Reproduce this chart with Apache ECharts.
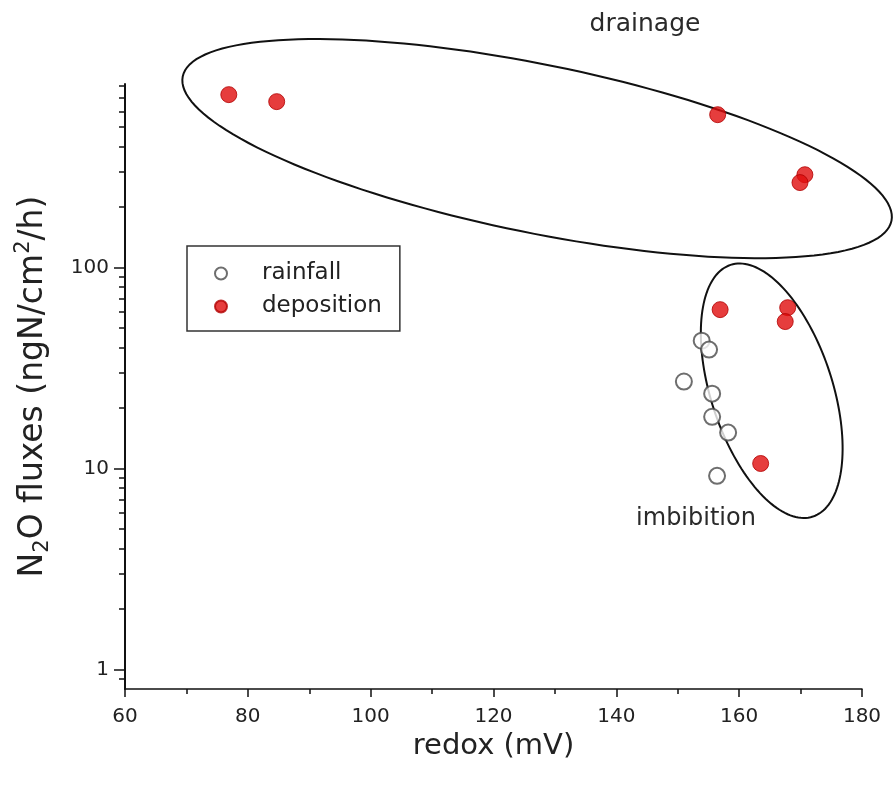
<!DOCTYPE html>
<html>
<head>
<meta charset="utf-8">
<script src="https://cdn.jsdelivr.net/npm/echarts@6/dist/echarts.min.js"></script>
<style>
  html, body { margin: 0; padding: 0; background: #fff; }
  #chart { width: 894px; height: 787px; }
</style>
</head>
<body>
<div id="chart"></div>
<script>
// rainfall (open circles)
var rainfallRedox = [153.9, 155.1, 151.0, 155.6, 155.6, 158.2, 156.4]
var rainfallFlux = [43.3, 39.1, 27.1, 23.6, 18.1, 15.1, 9.2]

// deposition (red dots)
var depositionRedox = [76.9, 84.7, 156.5, 170.7, 169.9, 156.9, 167.9, 167.5, 163.5]
var depositionFlux = [726, 670, 577, 290, 265, 61.8, 63.2, 53.9, 10.6]

var xTicks = [60, 80, 100, 120, 140, 160, 180]
var yMajorTicks = [1, 10, 100]
var yMinorTicks = [0.9, 2, 3, 4, 5, 6, 7, 8, 9, 20, 30, 40, 50, 60, 70, 80, 90, 200, 300, 400, 500, 600, 700, 800]

// ellipses: center, end of one half axis, end of the other (redox, flux)
var drainageEllipse = [127.1, 391, 184.8, 171, 124.4, 152]
var imbibitionEllipse = [165.3, 24.4, 172.0, 5.77, 174.7, 30.3]

var font = 'DejaVu Sans'
var ink = '#222'

function pairs(xs, ys) {
  return xs.map(function (x, i) { return [x, ys[i]] })
}

var chart = echarts.init(document.getElementById('chart'))

chart.setOption({
  animation: false,
  backgroundColor: '#fff',
  grid: { left: 125, right: 32, top: 84, bottom: 98 },
  legend: {
    data: ['rainfall', 'deposition'],
    orient: 'vertical',
    left: 187,
    top: 246,
    padding: [16, 18, 13, 27],
    itemGap: 10,
    itemWidth: 14,
    itemHeight: 12,
    backgroundColor: '#fff',
    borderColor: '#333',
    borderWidth: 1.5,
    borderRadius: 0,
    textStyle: { fontFamily: font, fontSize: 23, color: ink, padding: [0, 0, 0, 29] }
  },
  xAxis: {
    type: 'value',
    min: xTicks[0],
    max: xTicks[xTicks.length - 1],
    interval: 20,
    splitLine: { show: false },
    axisLine: { lineStyle: { color: '#111', width: 1.5 } },
    axisTick: { length: 8, lineStyle: { color: '#111', width: 1.5 } },
    minorTick: { show: true, splitNumber: 2, length: 5, lineStyle: { color: '#111', width: 1.5 } },
    axisLabel: { margin: 18, fontFamily: font, fontSize: 20, color: ink },
    name: 'redox (mV)',
    nameLocation: 'middle',
    nameGap: 42,
    nameTextStyle: { fontFamily: font, fontSize: 29, color: ink }
  },
  yAxis: [{
    type: 'log',
    min: 0.8,
    max: 820,
    splitLine: { show: false },
    axisLine: { lineStyle: { color: '#111', width: 2 } },
    axisTick: { customValues: yMajorTicks, length: 11, lineStyle: { color: '#111', width: 1.5 } },
    axisLabel: { customValues: yMajorTicks, margin: 16, fontFamily: font, fontSize: 20, color: ink },
    name: '{a|N}{s|2}{a|O fluxes (ngN/cm}{p|2}{a|/h)}',
    nameLocation: 'middle',
    nameGap: 72,
    nameTextStyle: {
      rich: {
        a: { fontFamily: font, fontSize: 33, color: ink, lineHeight: 40 },
        s: { fontFamily: font, fontSize: 21, color: ink, verticalAlign: 'bottom', lineHeight: 21 },
        p: { fontFamily: font, fontSize: 21, color: ink, verticalAlign: 'top', lineHeight: 21 }
      }
    }
  }, {
    type: 'log',
    min: 0.8,
    max: 820,
    position: 'left',
    splitLine: { show: false },
    axisLine: { show: false },
    axisTick: { customValues: yMinorTicks, length: 6, lineStyle: { color: '#111', width: 1.5 } },
    axisLabel: { show: false }
  }],
  graphic: [
    { type: 'text', x: 645, y: 24, style: { text: 'drainage', fill: '#2a2a2a', font: '25px "DejaVu Sans"', align: 'center', verticalAlign: 'middle' } },
    { type: 'text', x: 696, y: 519, style: { text: 'imbibition', fill: '#2a2a2a', font: '24px "DejaVu Sans"', align: 'center', verticalAlign: 'middle' } }
  ],
  series: [{
    type: 'custom',
    clip: false,
    silent: true,
    z: 1,
    data: [drainageEllipse, imbibitionEllipse],
    encode: { x: [0, 2, 4], y: [1, 3, 5] },
    renderItem: function (params, api) {
      var c = api.coord([api.value(0), api.value(1)])
      var a = api.coord([api.value(2), api.value(3)])
      var b = api.coord([api.value(4), api.value(5)])
      var pts = []
      for (var i = 0; i < 160; i++) {
        var t = i / 160 * Math.PI * 2
        pts.push([
          c[0] + (a[0] - c[0]) * Math.cos(t) + (b[0] - c[0]) * Math.sin(t),
          c[1] + (a[1] - c[1]) * Math.cos(t) + (b[1] - c[1]) * Math.sin(t)
        ])
      }
      return { type: 'polygon', shape: { points: pts }, style: { fill: 'none', stroke: '#111', lineWidth: 2 } }
    }
  }, {
    name: 'rainfall',
    type: 'scatter',
    z: 3,
    symbol: 'emptyCircle',
    symbolSize: 16,
    itemStyle: { color: '#4a4a4a', borderColor: '#4a4a4a', borderWidth: 1.5 },
    data: pairs(rainfallRedox, rainfallFlux)
  }, {
    name: 'deposition',
    type: 'scatter',
    z: 4,
    symbol: 'circle',
    symbolSize: 16,
    itemStyle: { color: '#e00c0c', borderColor: '#b00000', borderWidth: 1 },
    data: pairs(depositionRedox, depositionFlux)
  }]
})
</script>
</body>
</html>
